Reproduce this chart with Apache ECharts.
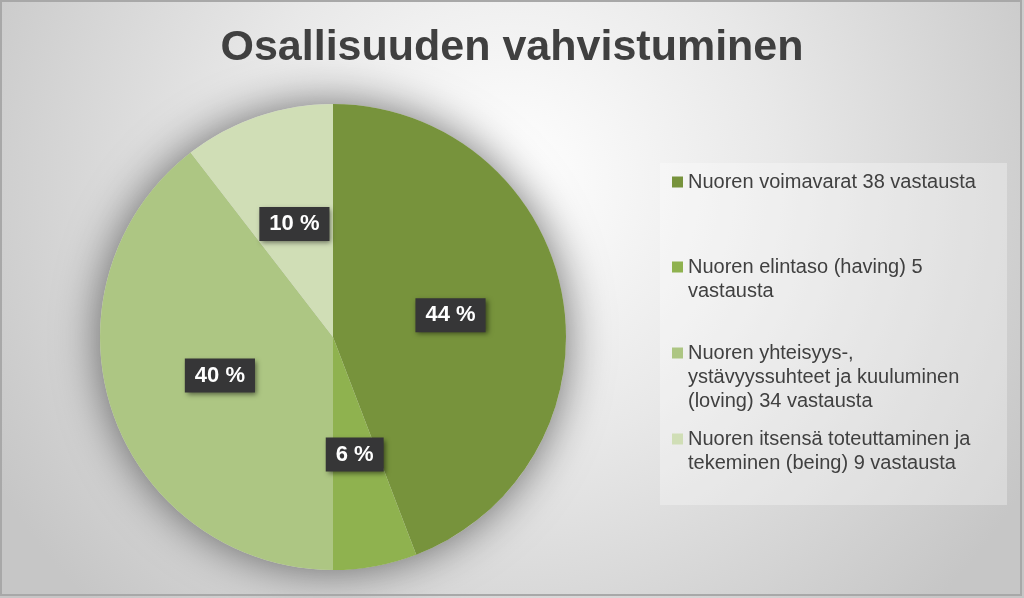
<!DOCTYPE html>
<html>
<head>
<meta charset="utf-8">
<script src="https://cdn.jsdelivr.net/npm/echarts@6/dist/echarts.min.js"></script>
<style>
html,body{margin:0;padding:0;background:#fff;}
#chart{width:1024px;height:598px;}
</style>
</head>
<body>
<div id="chart"></div>
<script>
const titleText = 'Osallisuuden vahvistuminen';
const categories = [
  'Nuoren voimavarat 38 vastausta',
  'Nuoren elintaso (having) 5 vastausta',
  'Nuoren yhteisyys-, ystävyyssuhteet ja kuuluminen (loving) 34 vastausta',
  'Nuoren itsensä toteuttaminen ja tekeminen (being) 9 vastausta'
];
const legendLabels = [
  'Nuoren voimavarat 38 vastausta',
  'Nuoren elintaso (having) 5\nvastausta',
  'Nuoren yhteisyys-,\nystävyyssuhteet ja kuuluminen\n(loving) 34 vastausta',
  'Nuoren itsensä toteuttaminen ja\ntekeminen (being) 9 vastausta'
];
const values = [38, 5, 34, 9];
const colors = ['#77933c', '#8fb24f', '#adc683', '#d0deb6'];

const FONT = '"Liberation Sans", Arial, sans-serif';
const LH = 24;
const legendTops = [170, 231, 293, 403];

const legends = categories.map((name, i) => {
  const n = legendLabels[i].split('\n').length;
  const pre = '\n'.repeat(n - 1);
  return {
    orient: 'vertical',
    left: 672,
    top: legendTops[i],
    padding: 0,
    itemWidth: 11,
    itemHeight: 11,
    itemGap: 0,
    icon: 'rect',
    selectedMode: false,
    data: [name],
    formatter: (nm) => pre + legendLabels[categories.indexOf(nm)],
    textStyle: {
      fontFamily: FONT,
      fontSize: 20,
      lineHeight: LH,
      color: '#404040'
    }
  };
});

const chart = echarts.init(document.getElementById('chart'), null, {renderer: 'canvas'});
chart.setOption({
  animation: false,
  backgroundColor: {
    type: 'radial', x: 0.5, y: 0.3, r: 1.0,
    colorStops: [
      {offset: 0, color: '#ffffff'},
      {offset: 0.45, color: '#e8e8e8'},
      {offset: 1, color: '#c6c6c6'}
    ]
  },
  title: {
    text: titleText,
    left: 'center',
    top: 22,
    textStyle: {fontFamily: FONT, fontSize: 43, fontWeight: 'bold', color: '#404040'}
  },
  graphic: [
    {
      type: 'rect', z: -1, silent: true,
      shape: {x: 660, y: 163, width: 347, height: 342},
      style: {fill: 'rgba(255,255,255,0.3)'}
    },
    {
      type: 'rect', z: 100, silent: true,
      shape: {x: 1, y: 1, width: 1020, height: 594},
      style: {fill: 'none', stroke: '#a8a8a8', lineWidth: 2}
    }
  ],
  legend: legends,
  series: [
    {
      type: 'pie',
      silent: true,
      z: 1,
      center: [333, 337],
      radius: 233,
      label: {show: false},
      labelLine: {show: false},
      itemStyle: {color: '#d8d8d8', shadowBlur: 45, shadowColor: 'rgba(0,0,0,0.55)'},
      data: [{value: 1, name: 'shadow'}]
    },
    {
      type: 'pie',
      z: 2,
      center: [333, 337],
      radius: 233,
      startAngle: 90,
      clockwise: true,
      percentPrecision: 0,
      emphasis: {disabled: true},
      itemStyle: {borderWidth: 0},
      labelLine: {show: false},
      label: {
        show: true,
        position: 'inside',
        formatter: '{d} %',
        fontFamily: FONT,
        fontSize: 22,
        fontWeight: 'bold',
        color: '#ffffff',
        backgroundColor: '#363637',
        padding: [6, 10, 6, 10],
        shadowColor: 'rgba(0,0,0,0.5)',
        shadowBlur: 5,
        shadowOffsetX: 2,
        shadowOffsetY: 2
      },
      data: categories.map((name, i) => ({
        name: name,
        value: values[i],
        itemStyle: {color: colors[i]}
      }))
    }
  ]
});
</script>
</body>
</html>
